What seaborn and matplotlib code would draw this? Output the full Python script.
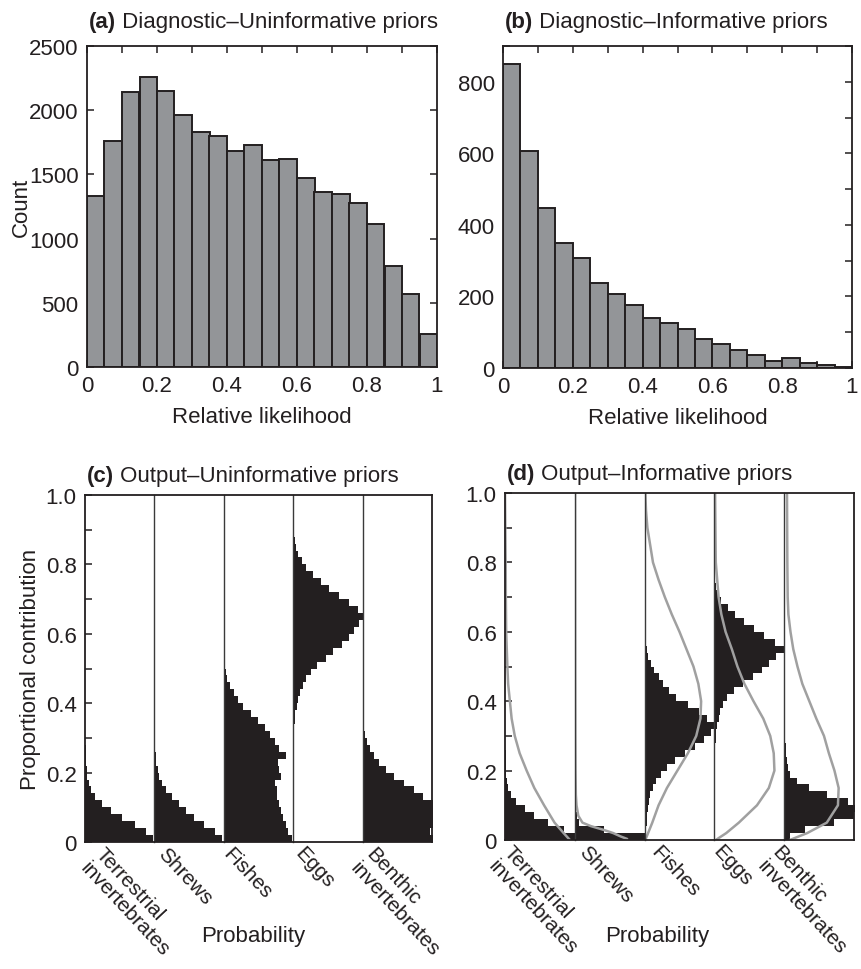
import numpy as np
import pandas as pd
import matplotlib
matplotlib.use("Agg")
import matplotlib.pyplot as plt
from matplotlib.ticker import MultipleLocator
import seaborn as sns

# ---- data ----
# (a)/(b) diagnostic histograms, 20 bins of 0.05 on [0, 1]
diag_uninf_counts = [1330, 1760, 2140, 2260, 2150, 1960, 1830, 1800, 1680, 1730,
                     1610, 1620, 1470, 1360, 1350, 1280, 1110, 790, 570, 260]
diag_inf_counts = [850, 607, 446, 350, 307, 237, 207, 177, 140, 126,
                   109, 81, 67, 49, 35, 20, 27, 13, 7, 4]

sources = ["Terrestrial\ninvertebrates", "Shrews", "Fishes", "Eggs", "Benthic\ninvertebrates"]

# (c)/(d) posterior widths (fraction of column width), bins of 0.02 starting at 0
terr_c = [0.98, 0.88, 0.72, 0.54, 0.38, 0.25, 0.15, 0.09, 0.055, 0.035, 0.025, 0.02, 0.015, 0.01]
shrews_c = [0.98, 0.88, 0.72, 0.57, 0.46, 0.35, 0.25, 0.17, 0.11, 0.07, 0.045, 0.03, 0.02,
            0.015, 0.012, 0.01, 0.01, 0.008, 0.007, 0.006, 0.005, 0.005, 0.004, 0.003, 0.003, 0.002]
fishes_c = [0.98, 0.93, 0.89, 0.86, 0.82, 0.79, 0.77, 0.76, 0.74, 0.82, 0.80, 0.78, 0.90,
            0.80, 0.74, 0.66, 0.60, 0.50, 0.39, 0.28, 0.20, 0.14, 0.09, 0.05, 0.03, 0.02,
            0.02, 0.015, 0.01, 0.01, 0.01, 0.01, 0.01, 0.01, 0.005, 0.005, 0.005, 0.005, 0.005]
eggs_c = [0] * 15 + [0.005, 0.01, 0.02, 0.03, 0.05, 0.07, 0.10, 0.14, 0.19, 0.26, 0.35, 0.47,
                     0.58, 0.70, 0.80, 0.88, 0.95, 1.0, 0.93, 0.80, 0.66, 0.52, 0.40, 0.28,
                     0.19, 0.12, 0.07, 0.04, 0.02, 0.01]
benthic_c = [1.05, 0.97, 1.08, 1.1, 1.1, 1.02, 0.87, 0.74, 0.60, 0.45, 0.33, 0.24, 0.16,
             0.10, 0.06, 0.03, 0.01]

terr_d = [1.0, 0.85, 0.62, 0.42, 0.28, 0.16, 0.09, 0.05, 0.03, 0.02, 0.015, 0.01, 0.01, 0.005]
shrews_d = [1.1, 0.42, 0.06, 0.03, 0.02, 0.015, 0.01, 0.01, 0.008, 0.006, 0.005]
fishes_d = [0.02, 0.025, 0.03, 0.035, 0.045, 0.06, 0.08, 0.12, 0.17, 0.23, 0.32, 0.44, 0.58,
            0.72, 0.85, 0.95, 1.02, 0.90, 0.78, 0.62, 0.45, 0.35, 0.27, 0.20, 0.14, 0.09,
            0.05, 0.03, 0.02, 0.015, 0.01, 0.01, 0.01, 0.01, 0.005, 0.005, 0.005]
eggs_d = [0.005] * 7 + [0.01] * 7 + [0.02, 0.03, 0.04, 0.06, 0.08, 0.12, 0.18, 0.28, 0.41,
                                     0.55, 0.68, 0.78, 0.88, 1.0, 0.87, 0.71, 0.57, 0.43,
                                     0.30, 0.19, 0.10, 0.05, 0.02, 0.01]
benthic_d = [0.08, 0.30, 0.72, 1.0, 1.05, 0.92, 0.62, 0.36, 0.18, 0.09, 0.05, 0.04, 0.03, 0.02, 0.01]

# (d) prior densities (grey curves): proportion, width
terr_prior_y = [0, 0.02, 0.05, 0.10, 0.15, 0.20, 0.25, 0.30, 0.35, 0.40, 0.45, 0.50, 0.60, 0.70, 0.80, 0.90, 1.0]
terr_prior_x = [0.93, 0.84, 0.71, 0.56, 0.42, 0.31, 0.21, 0.14, 0.095, 0.07, 0.045, 0.034, 0.017, 0.012, 0.01, 0.005, 0.0]
shrews_prior_y = [0.003, 0.01, 0.02, 0.03, 0.04, 0.05, 0.07, 0.10, 0.13, 0.2, 0.3, 0.5, 0.7, 1.0]
shrews_prior_x = [0.75, 0.66, 0.55, 0.40, 0.23, 0.11, 0.05, 0.025, 0.015, 0.01, 0.007, 0.005, 0.004, 0.003]
fishes_prior_y = [0.0, 0.02, 0.05, 0.10, 0.15, 0.20, 0.25, 0.30, 0.35, 0.40, 0.45, 0.50, 0.55,
                  0.60, 0.65, 0.70, 0.75, 0.80, 0.85, 0.90, 0.95, 1.0]
fishes_prior_x = [0.01, 0.05, 0.11, 0.20, 0.32, 0.47, 0.62, 0.74, 0.80, 0.81, 0.77, 0.70, 0.60,
                  0.50, 0.39, 0.29, 0.20, 0.12, 0.08, 0.04, 0.02, 0.01]
eggs_prior_y = [0.0, 0.02, 0.05, 0.10, 0.15, 0.20, 0.25, 0.30, 0.35, 0.40, 0.45, 0.50, 0.55,
                0.60, 0.65, 0.70, 0.75, 0.80, 0.90, 1.0]
eggs_prior_x = [0.02, 0.17, 0.35, 0.61, 0.78, 0.86, 0.85, 0.80, 0.70, 0.56, 0.43, 0.33, 0.25,
                0.16, 0.10, 0.06, 0.04, 0.02, 0.015, 0.01]
benthic_prior_y = [0.0, 0.02, 0.05, 0.10, 0.15, 0.20, 0.25, 0.30, 0.35, 0.40, 0.45, 0.50, 0.55,
                   0.60, 0.65, 0.70, 0.80, 1.0]
benthic_prior_x = [0.08, 0.33, 0.61, 0.77, 0.78, 0.72, 0.64, 0.57, 0.46, 0.36, 0.26, 0.19, 0.13,
                   0.09, 0.06, 0.05, 0.045, 0.04]

# ---- style ----
sns.set_style("ticks")
plt.rcParams["font.family"] = ["Liberation Sans", "DejaVu Sans"]
FS = 16
DARK = "#231f20"
BAR = "#939598"
GREY = "#a0a0a0"

fig = plt.figure(figsize=(8.62, 9.70), dpi=100)


def px_rect(l, t, r, b):
    W, H = 862.0, 970.0
    return [l / W, 1 - b / H, (r - l) / W, (b - t) / H]


def panel_title(ax, tag, text, pad):
    t = ax.annotate(tag, xy=(0, 1), xycoords="axes fraction", xytext=(1, pad),
                    textcoords="offset points", fontweight="bold", fontsize=FS,
                    ha="left", va="baseline", color=DARK)
    ax.annotate(" " + text, xy=(1, 0), xycoords=t, ha="left", va="bottom",
                fontsize=FS, color=DARK)


def style_frame(ax):
    for sp in ax.spines.values():
        sp.set_visible(True)
        sp.set_color(DARK)
        sp.set_linewidth(1.3)
        sp.set_zorder(6)


def diag_panel(rect, counts, ymax, ystep, yminor, tag, text, ylabel):
    ax = fig.add_axes(rect)
    nb = len(counts)
    centers = (np.arange(nb) + 0.5) / nb
    df = pd.DataFrame({"x": centers, "w": np.asarray(counts, dtype=float)})
    sns.histplot(data=df, x="x", weights="w", bins=nb, binrange=(0, 1), color=BAR,
                 edgecolor=DARK, linewidth=1.4, alpha=1, ax=ax)
    ax.set_xlim(0, 1)
    ax.set_ylim(0, ymax)
    ax.set_xticks(np.arange(0, 1.01, 0.2))
    ax.set_xticklabels(["0", "0.2", "0.4", "0.6", "0.8", "1"])
    ax.xaxis.set_minor_locator(MultipleLocator(0.1))
    ax.set_yticks(np.arange(0, ymax + 1, ystep)[: int(ymax // ystep) + 1])
    ax.yaxis.set_minor_locator(MultipleLocator(yminor))
    ax.tick_params(which="both", direction="in", top=True, right=True, length=5,
                   width=1.1, color=DARK, labelsize=FS, pad=6, labelcolor=DARK)
    ax.set_xlabel("Relative likelihood", fontsize=FS, labelpad=7, color=DARK)
    ax.set_ylabel(ylabel, fontsize=FS, labelpad=-2, color=DARK)
    style_frame(ax)
    panel_title(ax, tag, text, 14)
    return ax


def output_panel(rect, series, priors, tag, text, ylabel, label_x, prob_x):
    ax = fig.add_axes(rect)
    ax.set_xlim(0, 1)
    ax.set_ylim(0, 1)
    ax.set_xticks([])
    ax.set_yticks(np.arange(0, 1.01, 0.2))
    ax.set_yticklabels(["0", "0.2", "0.4", "0.6", "0.8", "1.0"])
    ax.yaxis.set_minor_locator(MultipleLocator(0.1))
    ax.tick_params(which="both", direction="in", length=5, width=1.1, color=DARK,
                   labelsize=FS, pad=6, labelcolor=DARK)
    ax.set_ylabel(ylabel, fontsize=FS, labelpad=3, color=DARK)
    style_frame(ax)
    panel_title(ax, tag, text, 10)

    nb = 50
    centers = (np.arange(nb) + 0.5) / nb
    n = len(series)
    for i, vals in enumerate(series):
        cax = ax.inset_axes([i / n, 0, 1 / n, 1])
        cax.set_facecolor("none")
        w = np.array(list(vals) + [0] * (nb - len(vals)), dtype=float)
        df = pd.DataFrame({"y": centers, "w": w})
        sns.histplot(data=df, y="y", weights="w", bins=nb, binrange=(0, 1),
                     element="step", fill=True, color=DARK, alpha=1, linewidth=0, ax=cax)
        if priors is not None:
            py, pxv = priors[i]
            sns.lineplot(x=pxv, y=py, orient="y", estimator=None, sort=True,
                         color=GREY, linewidth=1.8, legend=False, ax=cax)
        cax.set_xlim(0, 1)
        cax.set_ylim(0, 1)
        cax.set_xticks([])
        cax.set_yticks([])
        cax.set_xlabel("")
        cax.set_ylabel("")
        for side in ["top", "right", "bottom"]:
            cax.spines[side].set_visible(False)
        if i == 0:
            cax.spines["left"].set_visible(False)
        else:
            cax.spines["left"].set_color("#3a3a3a")
            cax.spines["left"].set_linewidth(1.0)
        cax.text(label_x[i], -0.004, sources[i], transform=cax.transAxes, rotation=-47,
                 rotation_mode="anchor", ha="left", va="top", fontsize=FS - 1,
                 color=DARK, linespacing=1.1)
    fig.text(prob_x / 862.0, 1 - 937 / 970.0, "Probability", ha="center", va="center",
             fontsize=FS, color=DARK)
    return ax


diag_panel(px_rect(87, 47, 437, 368), diag_uninf_counts, 2500, 500, 500,
           "(a)", "Diagnostic\u2013Uninformative priors", "Count")
diag_panel(px_rect(503, 47, 852, 369), diag_inf_counts, 900, 200, 100,
           "(b)", "Diagnostic\u2013Informative priors", "")

output_panel(px_rect(85, 496, 432, 843),
             [terr_c, shrews_c, fishes_c, eggs_c, benthic_c], None,
             "(c)", "Output\u2013Uninformative priors", "Proportional contribution",
             [0.3, 0.2, 0.13, 0.17, 0.19], 253)
output_panel(px_rect(505, 494, 854, 841),
             [terr_d, shrews_d, fishes_d, eggs_d, benthic_d],
             [(terr_prior_y, terr_prior_x), (shrews_prior_y, shrews_prior_x),
              (fishes_prior_y, fishes_prior_x), (eggs_prior_y, eggs_prior_x),
              (benthic_prior_y, benthic_prior_x)],
             "(d)", "Output\u2013Informative priors", "",
             [0.12, 0.21, 0.24, 0.12, -0.03], 657)

fig.savefig("out.png", dpi=100)
